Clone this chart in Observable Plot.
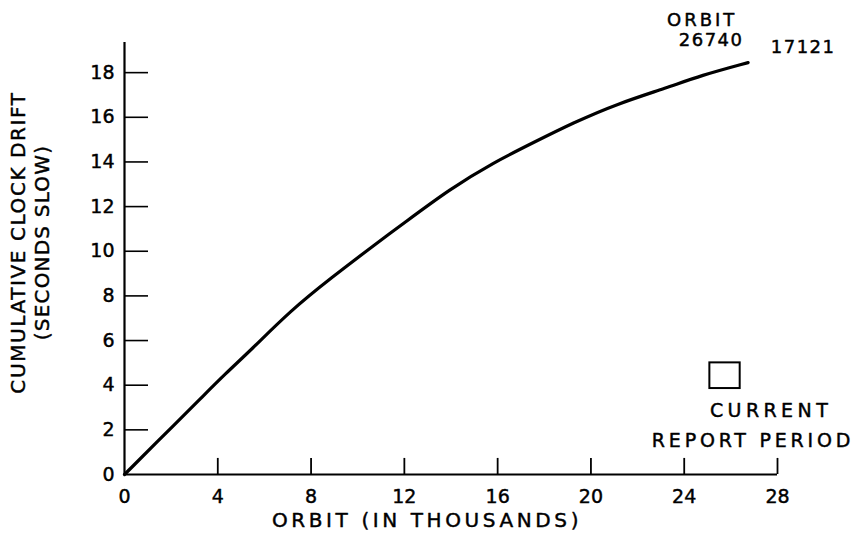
<!DOCTYPE html>
<html>
<head>
<meta charset="utf-8">
<script src="https://cdn.jsdelivr.net/npm/d3@7"></script>
<script src="https://cdn.jsdelivr.net/npm/@observablehq/plot@0.6"></script>
<style>
  html, body { margin: 0; padding: 0; background: #fff; }
  svg { display: block; }
</style>
</head>
<body>
<div id="chart"></div>
<script>
// Orbit number (thousands) and cumulative clock drift (seconds slow)
const orbit = [0, 2.32, 3.26, 4.33, 5.40, 7.12, 8.83, 10.85, 11.84, 13.98, 15.82, 17.54, 19.25, 21.14, 23.28, 24.70, 26.74];
const drift = [0, 2.42, 3.40, 4.52, 5.55, 7.34, 8.78, 10.39, 11.15, 12.81, 13.97, 14.87, 15.76, 16.61, 17.33, 17.87, 18.45];

const xTicks = [4, 8, 12, 16, 20, 24, 28];
const xTickLabels = [0, 4, 8, 12, 16, 20, 24, 28];
const yTicks = [2, 4, 6, 8, 10, 12, 14, 16, 18];
const yTickLabels = [0, 2, 4, 6, 8, 10, 12, 14, 16, 18];

const yLabel1 = "CUMULATIVE CLOCK DRIFT";
const yLabel2 = "(SECONDS SLOW)";
const xLabel = "ORBIT (IN THOUSANDS)";
const endOrbitWord = "ORBIT";
const endOrbit = "26740";
const pageNo = "17121";
const periodLabel1 = "CURRENT";
const periodLabel2 = "REPORT PERIOD";
// current report period box (legend swatch), in data units
const periodBox = [{x1: 25.1, x2: 26.4, y1: 3.85, y2: 5.0}];

const data = orbit.map((o, i) => ({orbit: o, drift: drift[i]}));
const end = data[data.length - 1];
const font = "DejaVu Sans, Verdana, sans-serif";
const ink = {fill: "#000", stroke: "#000", strokeWidth: 0.45};

const chart = Plot.plot({
  width: 866,
  height: 537,
  marginLeft: 124,
  marginRight: 89,
  marginTop: 42,
  marginBottom: 63,
  style: {fontFamily: font, color: "#000", background: "#fff", overflow: "visible"},
  x: {domain: [0, 28], axis: null},
  y: {domain: [0, 19.35], axis: null},
  marks: [
    // axis lines
    Plot.ruleX([0], {stroke: "#000", strokeWidth: 2.2}),
    Plot.ruleY([0], {x1: 0, x2: 28, stroke: "#000", strokeWidth: 2}),
    // inward y ticks
    Plot.ruleY(yTicks, {y: d => d, x1: 0, x2: 1.03, stroke: "#000", strokeWidth: 1.6}),
    // upward x ticks
    Plot.ruleX(xTicks, {x: d => d, y1: 0, y2: 0.72, stroke: "#000", strokeWidth: 1.8}),
    // tick labels
    Plot.text(yTickLabels, {x: 0, y: d => d, text: d => String(d), textAnchor: "end", dx: -10, fontSize: 19, ...ink}),
    Plot.text(xTickLabels, {x: d => d, y: 0, text: d => String(d), dy: 22, fontSize: 19, ...ink}),
    // axis titles
    Plot.text([yLabel1], {frameAnchor: "left", textAnchor: "middle", text: d => d, rotate: -90, dx: -106, dy: -16, fontSize: 20, ...ink}),
    Plot.text([yLabel2], {frameAnchor: "left", textAnchor: "middle", text: d => d, rotate: -90, dx: -82, dy: -16, fontSize: 20, ...ink}),
    Plot.text([xLabel], {frameAnchor: "bottom", text: d => d, dx: -24, dy: 52, fontSize: 20, ...ink}),
    // the curve
    Plot.line(data, {x: "orbit", y: "drift", curve: "basis", stroke: "#000", strokeWidth: 3.2}),
    // end annotation
    Plot.text([end], {x: "orbit", y: "drift", text: () => endOrbitWord, dx: -46, dy: -42, fontSize: 18, ...ink}),
    Plot.text([end], {x: "orbit", y: "drift", text: () => endOrbit, dx: -37, dy: -22, fontSize: 18, ...ink}),
    Plot.text([end], {x: "orbit", y: "drift", text: () => pageNo, dx: 55, dy: -15, fontSize: 18, ...ink}),
    // current report period legend
    Plot.rect(periodBox, {x1: "x1", x2: "x2", y1: "y1", y2: "y2", fill: "none", stroke: "#000", strokeWidth: 2}),
    Plot.text(periodBox, {x: d => (d.x1 + d.x2) / 2, y: "y1", text: () => periodLabel1, dx: 46, dy: 22, fontSize: 19, ...ink}),
    Plot.text(periodBox, {x: d => (d.x1 + d.x2) / 2, y: "y1", text: () => periodLabel2, dx: 28, dy: 52, fontSize: 19, ...ink})
  ]
});

// widen the hand-lettered texts with letter spacing
const spacing = new Map([
  [xLabel, 3.6], [yLabel1, 1.6], [yLabel2, 1.2],
  [endOrbitWord, 3], [endOrbit, 1.5], [pageNo, 1.5],
  [periodLabel1, 4.4], [periodLabel2, 3.8]
]);
d3.select(chart).selectAll("text").each(function() {
  const t = this.textContent;
  if (spacing.has(t)) this.setAttribute("letter-spacing", spacing.get(t));
});
document.getElementById("chart").appendChild(chart);
</script>
</body>
</html>
